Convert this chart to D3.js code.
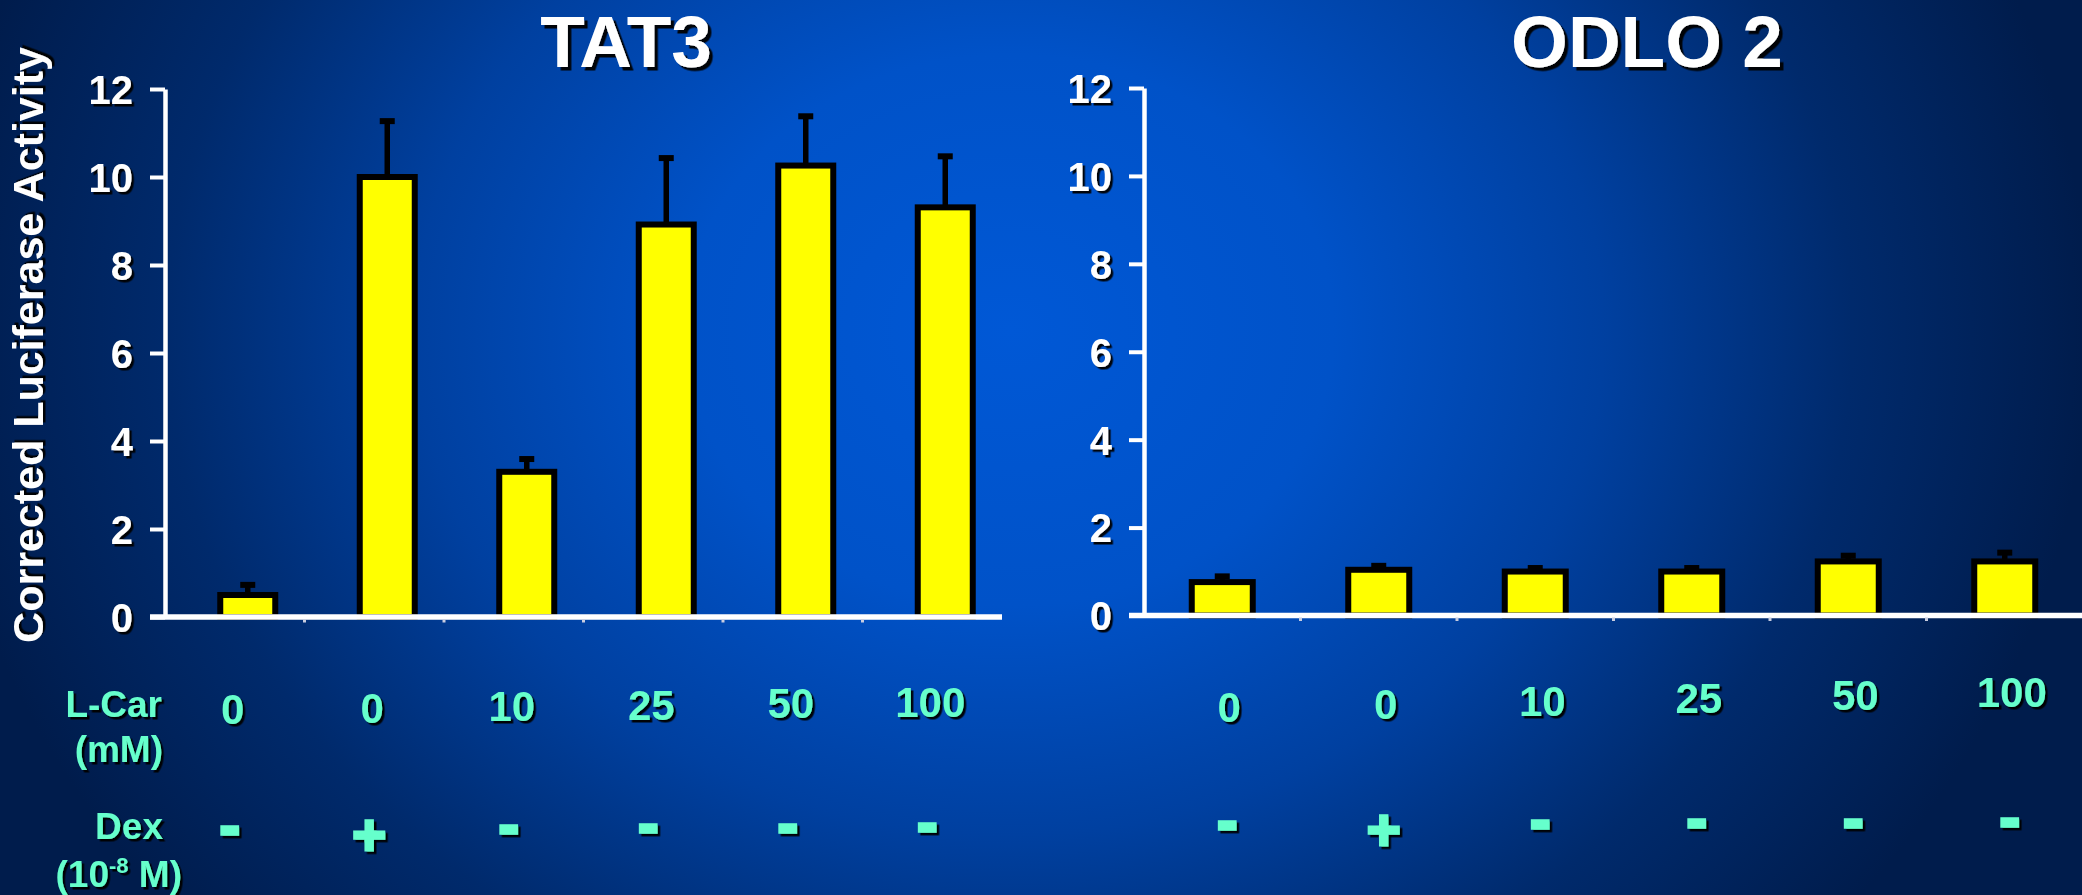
<!DOCTYPE html>
<html>
<head>
<meta charset="utf-8">
<script src="https://cdn.jsdelivr.net/npm/d3@7"></script>
<style>
  html, body { margin: 0; padding: 0; background: #0a2050; }
  svg { display: block; }
  text { font-family: "Liberation Sans", Arial, sans-serif; font-weight: bold; }
</style>
</head>
<body>
<svg id="chart" width="2082" height="895"></svg>
<script>
// Treatment conditions shared by both reporter constructs
const lcarLabels = ["0", "0", "10", "25", "50", "100"];
const dexLabels = ["-", "+", "-", "-", "-", "-"];
const yTicks = [0, 2, 4, 6, 8, 10, 12];

// TAT3 reporter: mean corrected luciferase activity and SEM
const tat3Means = [0.5, 10.0, 3.3, 8.92, 10.26, 9.31];
const tat3Errors = [0.23, 1.27, 0.29, 1.51, 1.12, 1.16];

// ODLO 2 reporter
const odlo2Means = [0.76, 1.04, 1.0, 1.0, 1.23, 1.23];
const odlo2Errors = [0.13, 0.09, 0.08, 0.08, 0.13, 0.2];

const W = 2082, H = 895;
const svg = d3.select("#chart");
const defs = svg.append("defs");

// slide-style background: bright blue glow in the middle fading to navy
const grad = defs.append("radialGradient")
  .attr("id", "bg")
  .attr("gradientUnits", "userSpaceOnUse")
  .attr("cx", 1010).attr("cy", 330).attr("r", 1080)
  .attr("gradientTransform", "translate(1010,330) scale(1,0.85) translate(-1010,-330)");
[[0, "#0058d6"], [0.3, "#0052c8"], [0.55, "#0040a0"], [0.78, "#002a6c"], [1, "#001c4c"]]
  .forEach(([o, c]) => grad.append("stop").attr("offset", o).attr("stop-color", c));
svg.append("rect").attr("width", W).attr("height", H).attr("fill", "url(#bg)");

// hard drop shadow used on all lettering
function shadow(id, d) {
  const f = defs.append("filter").attr("id", id)
    .attr("x", "-10%").attr("y", "-10%").attr("width", "130%").attr("height", "140%");
  f.append("feDropShadow").attr("dx", d).attr("dy", d).attr("stdDeviation", 0.6)
    .attr("flood-color", "#000").attr("flood-opacity", 0.95);
}
shadow("sh", 2.5);
shadow("shBig", 3.5);

const textColor = "#66ffcc";

const panels = [
  {
    title: "TAT3", titleX: 626, means: tat3Means, errors: tat3Errors,
    x0: 165, x1: 1002, y0: 617, y1: 89, axisLeft: 150,
    barW: 55, barShift: 13,
    lcarY: 724, lcarSlope: -1.4, lcarDx: -2,
    dexY: 846, dexSlope: -0.6, dexDx: -5
  },
  {
    title: "ODLO 2", titleX: 1647, means: odlo2Means, errors: odlo2Errors,
    x0: 1144, x1: 2083, y0: 615.5, y1: 88, axisLeft: 1129,
    barW: 61, barShift: 0,
    lcarY: 722, lcarSlope: -3, lcarDx: 7,
    dexY: 841, dexSlope: -0.6, dexDx: 5
  }
];

panels.forEach(p => {
  const g = svg.append("g");
  const x = d3.scaleBand().domain(d3.range(lcarLabels.length)).range([p.x0, p.x1]).padding(0);
  const y = d3.scaleLinear().domain([0, 12]).range([p.y0, p.y1]);
  const cx = i => x(i) + x.bandwidth() / 2;

  // title
  g.append("text")
    .attr("x", p.titleX).attr("y", 67)
    .attr("text-anchor", "middle")
    .attr("font-size", 73).attr("fill", "#fff")
    .attr("filter", "url(#shBig)")
    .text(p.title);

  // error bars (drawn beneath bars so the stem starts at the bar top)
  const err = g.append("g");
  p.means.forEach((m, i) => {
    const xc = cx(i) + p.barShift;
    err.append("line")
      .attr("x1", xc).attr("x2", xc)
      .attr("y1", y(m)).attr("y2", y(m + p.errors[i]))
      .attr("stroke", "#000").attr("stroke-width", 5.5);
    err.append("rect")
      .attr("x", xc - 7.5).attr("y", y(m + p.errors[i]) - 3)
      .attr("width", 15).attr("height", 6)
      .attr("fill", "#000");
  });

  // bars
  g.append("g").selectAll("rect")
    .data(p.means)
    .join("rect")
    .attr("x", (d, i) => cx(i) + p.barShift - p.barW / 2)
    .attr("y", d => y(d))
    .attr("width", p.barW)
    .attr("height", d => y(0) - y(d))
    .attr("fill", "#ffff00")
    .attr("stroke", "#000")
    .attr("stroke-width", 6);

  // y axis
  const ya = g.append("g")
    .attr("transform", `translate(${p.x0},0)`)
    .call(d3.axisLeft(y).tickValues(yTicks).tickSize(15).tickPadding(17).tickSizeOuter(0).tickFormat(d3.format("d")));
  ya.select(".domain").attr("stroke", "#fff").attr("stroke-width", 4.5);
  ya.selectAll(".tick line").attr("stroke", "#fff").attr("stroke-width", 4);
  ya.selectAll(".tick text")
    .attr("fill", "#fff").attr("font-size", 40)
    .attr("font-family", "'Liberation Sans', Arial, sans-serif")
    .attr("font-weight", "bold")
    .attr("dy", "0.36em")
    .attr("filter", "url(#sh)");

  // x axis baseline with small marks between categories
  g.append("line")
    .attr("x1", p.axisLeft).attr("x2", p.x1)
    .attr("y1", y(0)).attr("y2", y(0))
    .attr("stroke", "#fff").attr("stroke-width", 5.5);
  g.append("g").selectAll("line")
    .data(d3.range(1, lcarLabels.length))
    .join("line")
    .attr("x1", i => x(i)).attr("x2", i => x(i))
    .attr("y1", y(0) + 2).attr("y2", y(0) + 5.5)
    .attr("stroke", "#c8cde0").attr("stroke-width", 3);

  // L-Car concentrations
  g.append("g").selectAll("text")
    .data(lcarLabels)
    .join("text")
    .attr("x", (d, i) => cx(i) + p.lcarDx)
    .attr("y", (d, i) => p.lcarY + i * p.lcarSlope)
    .attr("text-anchor", "middle")
    .attr("font-size", 42).attr("fill", textColor)
    .attr("filter", "url(#sh)")
    .text(d => d);

  // Dex presence / absence (heavy glyphs, thickened with a matching stroke)
  g.append("g").selectAll("text")
    .data(dexLabels)
    .join("text")
    .attr("x", (d, i) => cx(i) + p.dexDx)
    .attr("y", (d, i) => p.dexY + i * p.dexSlope + (d === "+" ? 10 : 0))
    .attr("text-anchor", "middle")
    .attr("font-size", d => d === "+" ? 58 : 60)
    .attr("fill", textColor)
    .attr("stroke", textColor)
    .attr("stroke-width", d => d === "+" ? 3 : 3.5)
    .attr("stroke-linejoin", "miter")
    .attr("filter", "url(#sh)")
    .text(d => d);
});

// y axis title
svg.append("text")
  .attr("transform", "translate(43,345) rotate(-90)")
  .attr("text-anchor", "middle")
  .attr("font-size", 43).attr("fill", "#fff")
  .attr("filter", "url(#sh)")
  .text("Corrected Luciferase Activity");

// row captions
const cap = svg.append("g").attr("fill", textColor).attr("font-size", 37).attr("filter", "url(#sh)");
cap.append("text").attr("x", 162).attr("y", 717).attr("text-anchor", "end").text("L-Car");
cap.append("text").attr("x", 163).attr("y", 762).attr("text-anchor", "end").text("(mM)");
cap.append("text").attr("x", 163).attr("y", 839).attr("text-anchor", "end").text("Dex");
const dexUnit = cap.append("text").attr("x", 182).attr("y", 887).attr("text-anchor", "end");
dexUnit.append("tspan").text("(10");
dexUnit.append("tspan").attr("font-size", 22).attr("dy", -14).text("-8");
dexUnit.append("tspan").attr("dy", 14).text(" M)");
</script>
</body>
</html>
